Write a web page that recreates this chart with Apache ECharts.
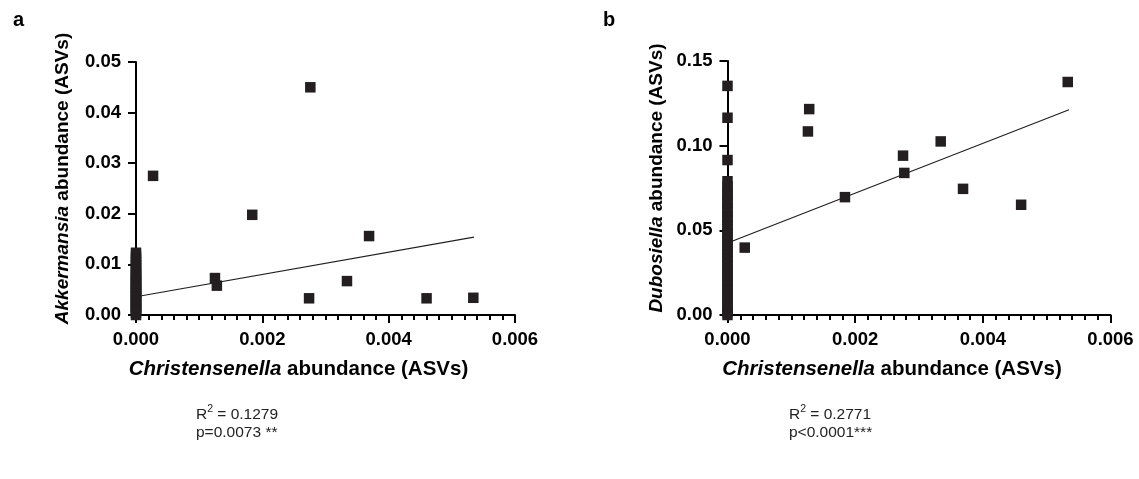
<!DOCTYPE html>
<html>
<head>
<meta charset="utf-8">
<script src="https://cdn.jsdelivr.net/npm/echarts@6/dist/echarts.min.js"></script>
<style>
html,body{margin:0;padding:0;background:#fff;}
#c{width:1139px;height:479px;}
</style>
</head>
<body>
<div id="c"></div>
<script>
// ---- Data ----
// Panel a: Akkermansia vs Christensenella
var aZeroY = [0.0000,0.0004,0.0008,0.0011,0.0014,0.0017,0.0021,0.0025,0.0028,0.0031,0.0035,0.0038,0.0042,0.0045,0.0049,0.0052,0.0056,0.0060,0.0063,0.0067,0.0071,0.0075,0.0079,0.0083,0.0088,0.0093,0.0098,0.0104,0.0110,0.0116,0.0123];
var aX = [0.00027,0.00276,0.00125,0.00128,0.00184,0.00274,0.00334,0.00369,0.00460,0.00534];
var aY = [0.0275,0.0450,0.0073,0.0058,0.0198,0.0033,0.0067,0.0156,0.0033,0.0034];
var aFitX = [0, 0.00535];
var aFitY = [0.0036, 0.0154];
// Panel b: Dubosiella vs Christensenella
var bZeroY = [0.000,0.002,0.004,0.006,0.009,0.011,0.013,0.016,0.018,0.020,0.023,0.025,0.027,0.030,0.032,0.034,0.037,0.039,0.041,0.044,0.046,0.048,0.051,0.053,0.056,0.058,0.061,0.063,0.066,0.068,0.071,0.073,0.076,0.079,0.0915,0.1165,0.1353];
var bX = [0.00027,0.00128,0.00126,0.00184,0.00275,0.00277,0.00334,0.00369,0.00460,0.00533];
var bY = [0.0398,0.1216,0.1084,0.0696,0.0941,0.0839,0.1025,0.0745,0.0651,0.1376];
var bFitX = [0, 0.00535];
var bFitY = [0.0425, 0.1212];
// Axis ticks / labels
var xMax = 0.006, xStep = 0.002;
var aYMax = 0.05, aYStep = 0.01;
var bYMax = 0.15, bYStep = 0.05;
var xTitle = '{i|Christensenella} abundance (ASVs)';
var aYTitle = '{i|Akkermansia} abundance (ASVs)';
var bYTitle = '{i|Dubosiella} abundance (ASVs)';
var statsA = ['R', '2', ' = 0.1279', 'p=0.0073 **'];
var statsB = ['R', '2', ' = 0.2771', 'p<0.0001***'];

function zip(xs, ys){ return xs.map(function(x,i){ return [x, ys[i]]; }); }
function zeroCol(ys){ return ys.map(function(y){ return [0, y]; }); }

var FONT = '"Liberation Sans", Arial, sans-serif';
var INK = '#231f20';
function richFor(size){
  return { i: {fontStyle:'italic', fontWeight:'bold', fontSize:size, fontFamily:FONT, color:'#000'} };
}
function xAxisCfg(gi){
  return {
    gridIndex: gi, type:'value', min:0, max:xMax, interval:xStep,
    name: xTitle, nameLocation:'middle', nameGap:44,
    nameTextStyle:{fontWeight:'bold', fontSize:20.5, fontFamily:FONT, color:'#000', rich:richFor(20.5),
      padding:[0,54,0,0]},
    axisLine:{show:true, onZero:false, lineStyle:{color:'#000', width:2}},
    axisTick:{show:true, length:8, lineStyle:{color:'#000', width:2}},
    minorTick:{show:true, splitNumber:10, length:5, lineStyle:{color:'#000', width:2}},
    splitLine:{show:false}, minorSplitLine:{show:false},
    axisLabel:{margin:15, fontWeight:'bold', fontSize:18.5, fontFamily:FONT, color:'#000',
      formatter:function(v){ return v.toFixed(3); }}
  };
}
function yAxisCfg(gi, max, step, title, gap){
  return {
    gridIndex: gi, type:'value', min:0, max:max, interval:step,
    name: title, nameLocation:'middle', nameGap:gap,
    nameTextStyle:{fontWeight:'bold', fontSize:19, fontFamily:FONT, color:'#000', rich:richFor(19),
      padding:[0,0,0,20]},
    axisLine:{show:true, onZero:false, lineStyle:{color:'#000', width:2}},
    axisTick:{show:true, length:8, lineStyle:{color:'#000', width:2}},
    splitLine:{show:false},
    axisLabel:{margin:15, fontWeight:'bold', fontSize:18.5, fontFamily:FONT, color:'#000',
      formatter:function(v){ return v.toFixed(2); }}
  };
}
function pts(gi, data){
  return {type:'scatter', xAxisIndex:gi, yAxisIndex:gi, data:data, symbol:'rect', symbolSize:10.5,
    itemStyle:{color:INK, opacity:1}, clip:false, silent:true, z:3};
}
function fit(gi, xs, ys){
  return {type:'line', xAxisIndex:gi, yAxisIndex:gi, data:zip(xs, ys), symbol:'none',
    lineStyle:{color:INK, width:1.2}, silent:true, z:4};
}
function statText(left, top, s){
  return [{
    type:'text', left:left, top:top,
    style:{text:'{n|'+s[0]+'}{s|'+s[1]+'}{n|'+s[2]+'}', rich:{
      n:{fontSize:15.5, fontFamily:FONT, fill:'#222', lineHeight:19, verticalAlign:'bottom'},
      s:{fontSize:10.5, fontFamily:FONT, fill:'#222', lineHeight:19, verticalAlign:'top'}
    }}
  },{
    type:'text', left:left, top:top+21,
    style:{text:s[3], fontSize:15.5, fontFamily:FONT, fill:'#222'}
  }];
}

var chart = echarts.init(document.getElementById('c'), null, {renderer:'canvas'});
chart.setOption({
  backgroundColor:'#fff',
  animation:false,
  grid:[
    {left:136, top:62, width:379, height:253},
    {left:727.5, top:61, width:383, height:254}
  ],
  xAxis:[xAxisCfg(0), xAxisCfg(1)],
  yAxis:[yAxisCfg(0, aYMax, aYStep, aYTitle, 64), yAxisCfg(1, bYMax, bYStep, bYTitle, 61)],
  series:[
    pts(0, zeroCol(aZeroY)), pts(0, zip(aX, aY)), fit(0, aFitX, aFitY),
    pts(1, zeroCol(bZeroY)), pts(1, zip(bX, bY)), fit(1, bFitX, bFitY)
  ],
  graphic:[
    {type:'text', left:13, top:10, style:{text:'a', fontSize:20, fontWeight:'bold', fontFamily:FONT, fill:'#000'}},
    {type:'text', left:603, top:10, style:{text:'b', fontSize:20, fontWeight:'bold', fontFamily:FONT, fill:'#000'}}
  ].concat(statText(196, 404, statsA)).concat(statText(789, 404, statsB))
});
</script>
</body>
</html>
